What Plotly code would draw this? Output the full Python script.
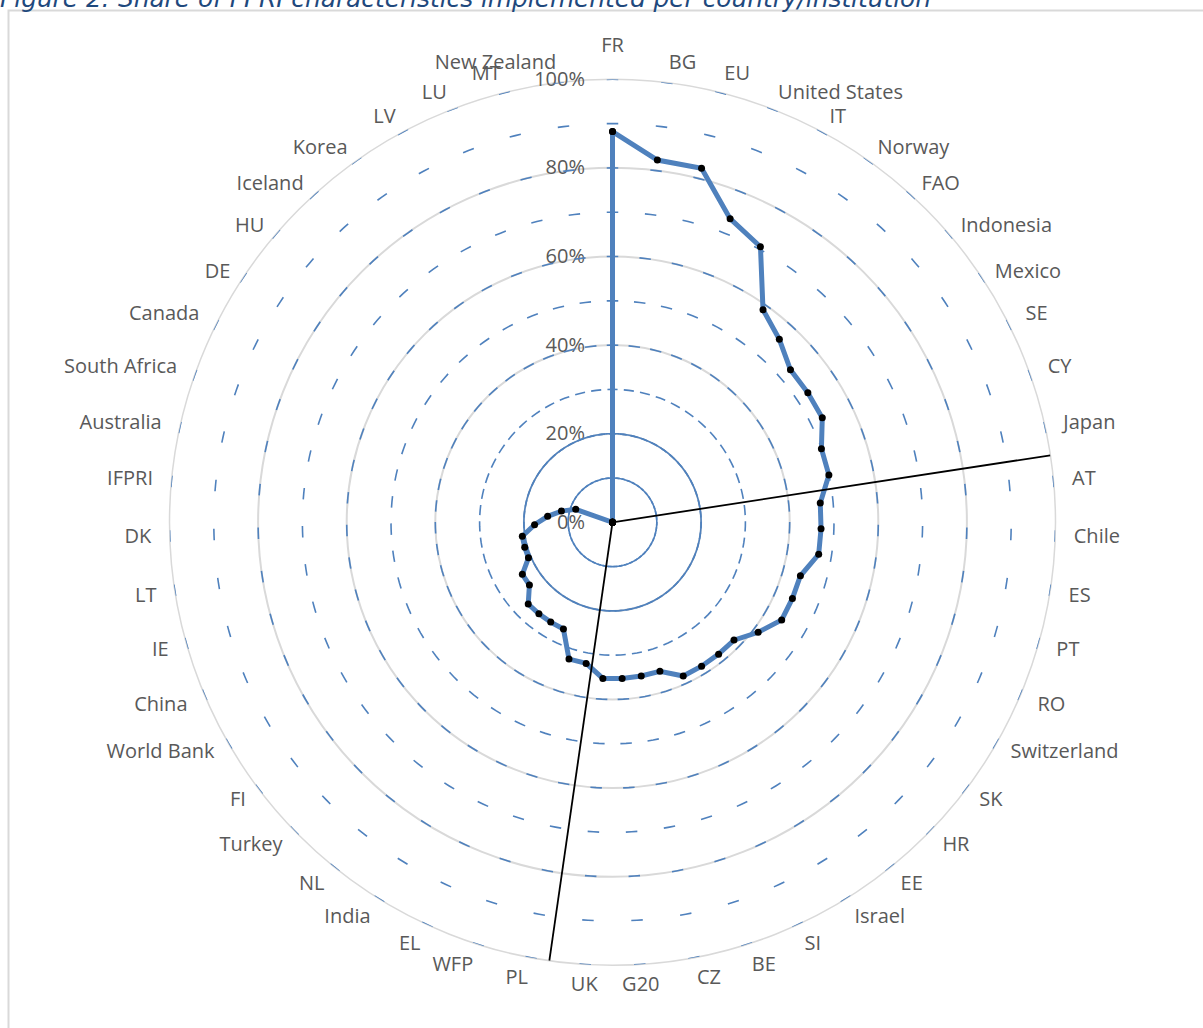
import math
import plotly.graph_objects as go

# Countries / institutions, clockwise from the top
categories = [
    "FR", "BG", "EU", "United States", "IT", "Norway", "FAO", "Indonesia",
    "Mexico", "SE", "CY", "Japan", "AT", "Chile", "ES", "PT", "RO",
    "Switzerland", "SK", "HR", "EE", "Israel", "SI", "BE", "CZ", "G20", "UK",
    "PL", "WFP", "EL", "India", "NL", "Turkey", "FI", "World Bank", "China",
    "IE", "LT", "DK", "IFPRI", "Australia", "South Africa", "Canada", "DE",
    "HU", "Iceland", "Korea", "LV", "LU", "MT", "New Zealand",
]

# Share of FPRI characteristics implemented (%)
share_pct = [
    88.2, 82.4, 82.4, 73.5, 70.6, 58.8, 55.9, 52.9, 52.9, 52.9, 50.0, 50.0,
    47.1, 47.1, 47.1, 44.1, 44.1, 44.1, 41.2, 38.2, 38.2, 38.2, 38.2, 35.3,
    35.3, 35.3, 35.3, 32.4, 32.4, 26.5, 26.5, 26.5, 26.5, 23.5, 23.5, 20.6,
    20.6, 20.6, 17.6, 14.7, 11.8, 8.8, 0, 0, 0, 0, 0, 0, 0, 0, 0,
]

radial_tickvals = [0, 20, 40, 60, 80, 100]
radial_ticktext = ["0%", "20%", "40%", "60%", "80%", "100%"]

# Group separators (compass degrees, clockwise from the top)
separator_deg = [81.3, 188.2]
separator_reach_pct = 100

# Solid reference rings (%)
solid_rings_pct = [10, 20]

title_text = ("Figure 2: Share of FPRI characteristics implemented "
              "per country/institution")

W, H = 1203, 1028
CX, CY, R = 612.5, 522.3, 443          # plot centre and outer radius (px)
BLUE = "#4F81BD"
GRID = "#d9d9d9"
LABEL = "#595959"
FONT = "Open Sans"
LABEL_FONT = dict(family=FONT, size=20, color=LABEL)

n = len(categories)
step = 360.0 / n
theta = [i * step for i in range(n)]


def label_zone(a):
    """Which label ring a category angle belongs to."""
    if a < 1:
        return "apex"
    if a <= 60 or a >= 300:
        return "top"
    if 115 <= a <= 245:
        return "bottom"
    if 100 <= a <= 260:
        return "lowside"
    return "side"


# per zone: vertical lift of the label ring (px) and label stand-off
LABEL_RINGS = {
    "apex": dict(lift=8, ticklen=11),
    "top": dict(lift=-5, ticklen=11),
    "side": dict(lift=1, ticklen=14),
    "lowside": dict(lift=5, ticklen=14),
    "bottom": dict(lift=10.5, ticklen=12),
}

fig = go.Figure()

# short blue dashes on every ring (10 % .. 100 %), centred on each spoke
for lvl in range(10, 101, 10):
    rad_px = lvl / 100.0 * R
    spacing = 2 * math.pi * rad_px / n
    dash_len = min(11.5, 0.62 * spacing)
    half = math.degrees(dash_len / 2.0 / rad_px)
    rr, tt = [], []
    for t in theta:
        rr += [lvl, lvl, lvl, None]
        tt += [t - half, t, t + half, None]
    fig.add_trace(go.Scatterpolar(
        r=rr, theta=tt, mode="lines", connectgaps=False,
        line=dict(color=BLUE, width=1.6),
        hoverinfo="skip", showlegend=False))

# solid inner rings
ring_theta = list(range(0, 361))
for lvl in solid_rings_pct:
    fig.add_trace(go.Scatterpolar(
        r=[lvl] * len(ring_theta), theta=ring_theta, mode="lines",
        line=dict(color=BLUE, width=1.6),
        hoverinfo="skip", showlegend=False))

# data series (closed back to the first category)
fig.add_trace(go.Scatterpolar(
    r=share_pct + [share_pct[0]],
    theta=theta + [theta[0]],
    mode="lines+markers",
    line=dict(color=BLUE, width=5),
    marker=dict(color="black", size=7),
    name="Share", showlegend=False))

# separators
for a in separator_deg:
    fig.add_trace(go.Scatterpolar(
        r=[0, separator_reach_pct], theta=[a, a], mode="lines",
        line=dict(color="black", width=1.8),
        hoverinfo="skip", showlegend=False))


def domain(cy):
    return dict(x=[(CX - R) / W, (CX + R) / W],
                y=[(H - cy - R) / H, (H - cy + R) / H])


layout_polars = dict(
    polar=dict(
        domain=domain(CY),
        bgcolor="white",
        angularaxis=dict(
            rotation=90, direction="clockwise",
            tickmode="array", tickvals=theta, showticklabels=False,
            showgrid=False, showline=True, linecolor=GRID, linewidth=1.5,
            ticks="", layer="below traces"),
        radialaxis=dict(
            range=[0, 100], angle=90, tickangle=90,
            side="counterclockwise",
            tickmode="array", tickvals=radial_tickvals,
            ticktext=radial_ticktext, tickfont=LABEL_FONT,
            showgrid=True, gridcolor=GRID, gridwidth=1.5,
            showline=False, ticks="outside", ticklen=20,
            tickcolor="rgba(0,0,0,0)", layer="below traces"),
    )
)

# category labels: one transparent angular axis per label ring
for k, (zone, ring) in enumerate(LABEL_RINGS.items(), start=2):
    idx = [i for i, a in enumerate(theta) if label_zone(a) == zone]
    sub = "polar%d" % k
    fig.add_trace(go.Scatterpolar(
        r=[0] * len(idx), theta=[theta[i] for i in idx], mode="markers",
        subplot=sub, marker=dict(size=1, opacity=0),
        hoverinfo="skip", showlegend=False))
    layout_polars[sub] = dict(
        domain=domain(CY - ring["lift"]),
        bgcolor="rgba(0,0,0,0)",
        angularaxis=dict(
            rotation=90, direction="clockwise",
            tickmode="array", tickvals=[theta[i] for i in idx],
            ticktext=[categories[i] for i in idx], tickfont=LABEL_FONT,
            showgrid=False, showline=False,
            ticks="outside", ticklen=ring["ticklen"],
            tickcolor="rgba(0,0,0,0)"),
        radialaxis=dict(range=[0, 1], visible=False),
    )

fig.update_layout(
    width=W, height=H,
    margin=dict(l=0, r=0, t=0, b=0),
    paper_bgcolor="white",
    showlegend=False,
    annotations=[dict(
        text=title_text, xref="paper", yref="paper",
        x=-2 / W, y=1 - 15 / H, xanchor="left", yanchor="bottom",
        showarrow=False,
        font=dict(family="DejaVu Sans", size=24.8, color="#1F497D",
                  style="italic"))],
    shapes=[dict(
        type="rect", xref="paper", yref="paper",
        x0=8.5 / W, x1=1.2, y0=1 - 10.5 / H, y1=-0.2,
        line=dict(color=GRID, width=2), layer="below")],
    **layout_polars,
)

fig.write_html("out.html")
